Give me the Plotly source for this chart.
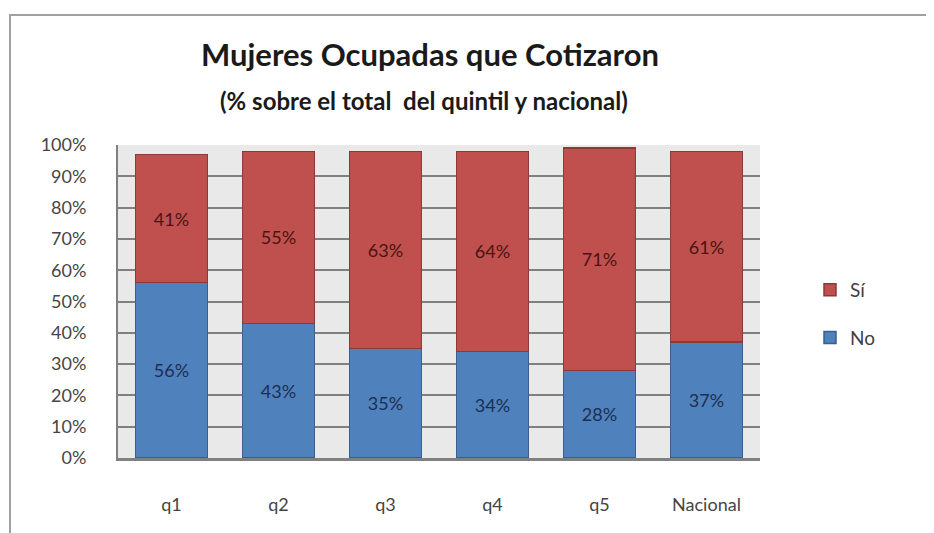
import plotly.graph_objects as go

categories = ["q1", "q2", "q3", "q4", "q5", "Nacional"]
no_values = [56, 43, 35, 34, 28, 37]
si_values = [41, 55, 63, 64, 71, 61]
y_ticks = list(range(0, 101, 10))
y_tick_labels = [f"{v}%" for v in y_ticks]

FONT = "Lato, Carlito, 'Liberation Sans', sans-serif"

# page body has an 8px margin; the figure is sized to fit the window
W, H = 926, 525
PL, PR, PT, PB = 110, 752, 137, 450  # plot area in figure pixels
PW, PHt = PR - PL, PB - PT


def px(xp):
    return (xp - PL) / PW


def py(yp):
    return (PB - yp) / PHt


fig = go.Figure()
fig.add_trace(go.Bar(
    x=categories, y=no_values, name="No", legendgroup="no", legendrank=2,
    marker=dict(color="#4f81bd", line=dict(color="#3a5f8e", width=1.5)),
    text=[f"{v}%" for v in no_values], textposition="inside",
    insidetextanchor="middle", textangle=0,
    textfont=dict(family=FONT, size=18, color="#1c2f4f"),
))
fig.add_trace(go.Bar(
    x=categories, y=si_values, name="Sí", legendgroup="si", legendrank=1,
    marker=dict(color="#c0504d", line=dict(color="#8c3a38", width=1.5)),
    text=[f"{v}%" for v in si_values], textposition="inside",
    insidetextanchor="middle", textangle=0,
    textfont=dict(family=FONT, size=18, color="#4a1414"),
))

fig.update_layout(
    width=W, height=H,
    barmode="stack", bargap=0.33,
    paper_bgcolor="white", plot_bgcolor="#e9e9e9",
    margin=dict(l=PL, r=W - PR, t=PT, b=H - PB),
    font=dict(family=FONT, color="#404040"),
    title=dict(text="<b>Mujeres Ocupadas que Cotizaron</b>", x=422 / W, xanchor="center",
               y=1 - 47 / H, yanchor="middle",
               font=dict(family=FONT, size=31, color="#1a1a1a")),
    legend=dict(x=px(802), xanchor="left", y=py(306), yanchor="middle",
                traceorder="grouped", tracegroupgap=20,
                font=dict(family=FONT, size=19, color="#404040"),
                itemwidth=30, bgcolor="rgba(0,0,0,0)"),
    showlegend=True,
    annotations=[dict(text="<b>(% sobre el total  del quintil y nacional)</b>",
                      xref="paper", yref="paper", x=px(416), y=py(93),
                      xanchor="center", yanchor="middle", showarrow=False,
                      font=dict(family=FONT, size=24, color="#1a1a1a"))],
    shapes=[dict(type="rect", xref="paper", yref="paper",
                 x0=px(2), x1=px(940), y0=py(540), y1=py(7),
                 line=dict(color="#a0a0a0", width=2), layer="below")],
)
fig.update_yaxes(range=[0, 100], tickvals=y_ticks, ticktext=y_tick_labels,
                 showgrid=True, gridcolor="#808080", gridwidth=2,
                 showline=True, linecolor="#808080", linewidth=2,
                 ticks="", ticklabelstandoff=26,
                 tickfont=dict(family=FONT, size=18, color="#454545"),
                 zeroline=False)
fig.update_xaxes(showline=True, linecolor="#808080", linewidth=3,
                 ticks="", ticklabelstandoff=28,
                 tickfont=dict(family=FONT, size=18, color="#454545"))

fig.write_html("out.html")
